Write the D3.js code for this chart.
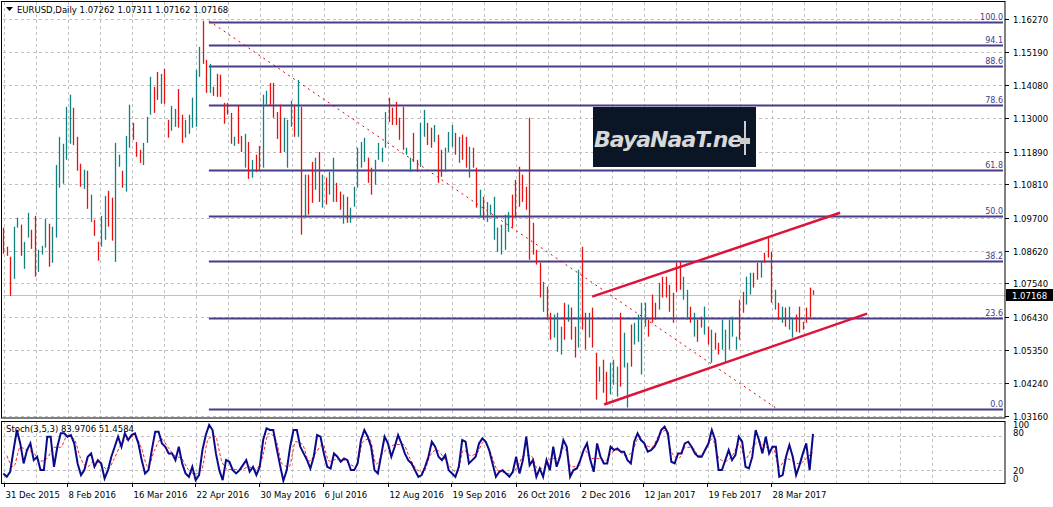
<!DOCTYPE html>
<html><head><meta charset="utf-8">
<script src="https://cdn.jsdelivr.net/npm/d3@7"></script>
<style>
body{margin:0;background:#fff;}
text{font-family:"DejaVu Sans",sans-serif;}
</style></head>
<body><svg id="chart" width="1053" height="507"></svg>
<script>
// EURUSD daily bars (high / low / direction U=up D=down)
var highs = [1.0938,1.0875,1.0842,1.0941,1.0971,1.0948,1.0891,1.0987,1.0931,1.0977,1.0865,1.0878,1.0967,1.0951,1.0941,1.1145,1.1238,1.1215,1.1337,1.1377,
  1.1334,1.1238,1.1149,1.1129,1.1126,1.1047,1.0964,1.0891,1.0977,1.1043,1.1060,1.1037,1.1218,1.1179,1.1126,1.1241,1.1344,1.1284,1.1221,1.1195,
  1.1218,1.1304,1.1436,1.1403,1.1452,1.1446,1.1462,1.1294,1.1340,1.1330,1.1396,1.1311,1.1294,1.1311,1.1367,1.1459,1.1535,1.1621,1.1492,1.1479,
  1.1403,1.1446,1.1443,1.1350,1.1350,1.1317,1.1238,1.1340,1.1241,1.1248,1.1221,1.1162,1.1179,1.1208,1.1377,1.1390,1.1416,1.1416,1.1320,1.1344,
  1.1301,1.1294,1.1357,1.1344,1.1426,1.1337,1.1113,1.1113,1.1155,1.1169,1.1188,1.1113,1.1103,1.1122,1.1169,1.1086,1.1057,1.1047,1.1040,1.1004,
  1.1073,1.1202,1.1221,1.1235,1.1169,1.1136,1.1162,1.1218,1.1202,1.1320,1.1367,1.1334,1.1353,1.1301,1.1337,1.1202,1.1169,1.1251,1.1162,1.1284,
  1.1327,1.1284,1.1268,1.1277,1.1245,1.1195,1.1202,1.1254,1.1277,1.1251,1.1238,1.1245,1.1238,1.1205,1.1202,1.1136,1.1063,1.1040,1.1023,1.1014,
  1.1040,1.0938,1.0948,1.0981,1.0990,1.1047,1.1096,1.1139,1.1113,1.1073,1.1301,1.0954,1.0865,1.0822,1.0759,1.0743,1.0657,1.0651,1.0657,1.0611,
  1.0690,1.0684,1.0674,1.0611,1.0799,1.0875,1.0657,1.0657,1.0674,1.0525,1.0479,1.0502,1.0462,1.0492,1.0502,1.0479,1.0657,1.0591,1.0492,1.0618,
  1.0624,1.0651,1.0690,1.0690,1.0634,1.0717,1.0690,1.0756,1.0776,1.0776,1.0749,1.0723,1.0822,1.0825,1.0776,1.0733,1.0677,1.0657,1.0634,1.0644,
  1.0677,1.0611,1.0601,1.0591,1.0558,1.0634,1.0601,1.0634,1.0644,1.0578,1.0700,1.0726,1.0776,1.0789,1.0789,1.0822,1.0825,1.0855,1.0908,1.0858,
  1.0733,1.0690,1.0677,1.0674,1.0677,1.0641,1.0651,1.0677,1.0627,1.0674,1.0740,1.07311];
var lows = [1.0852,1.0845,1.0713,1.0769,1.0938,1.0845,1.0802,1.0905,1.0868,1.0776,1.0792,1.0849,1.0872,1.0809,1.0822,1.0905,1.1070,1.1083,1.1162,1.1215,
  1.1211,1.1126,1.1073,1.1066,1.1000,1.0957,1.0911,1.0829,1.0875,1.0898,1.0941,1.0895,1.0825,1.1139,1.1070,1.1057,1.1202,1.1228,1.1172,1.1152,
  1.1145,1.1218,1.1311,1.1317,1.1360,1.1347,1.1347,1.1235,1.1258,1.1271,1.1268,1.1218,1.1235,1.1248,1.1268,1.1271,1.1436,1.1479,1.1383,1.1383,
  1.1373,1.1370,1.1370,1.1281,1.1311,1.1215,1.1208,1.1215,1.1188,1.1136,1.1099,1.1103,1.1122,1.1129,1.1136,1.1344,1.1340,1.1301,1.1231,1.1185,
  1.1188,1.1136,1.1271,1.1238,1.1238,1.0915,1.0971,1.0981,1.1020,1.1063,1.1023,1.1004,1.1014,1.1047,1.1023,1.1023,1.0997,1.0951,1.0954,1.0954,
  1.1007,1.1070,1.1136,1.1155,1.1086,1.1047,1.1080,1.1162,1.1155,1.1202,1.1287,1.1277,1.1277,1.1228,1.1195,1.1179,1.1122,1.1155,1.1122,1.1139,
  1.1238,1.1211,1.1202,1.1221,1.1086,1.1106,1.1122,1.1188,1.1205,1.1179,1.1152,1.1162,1.1136,1.1103,1.1136,1.1004,1.0971,1.0964,1.0957,1.0981,
  1.0898,1.0858,1.0849,1.0865,1.0924,1.0938,1.0971,1.1007,1.1023,1.0997,1.0832,1.0849,1.0816,1.0707,1.0660,1.0634,1.0568,1.0575,1.0528,1.0519,
  1.0568,1.0627,1.0568,1.0509,1.0542,1.0601,1.0535,1.0575,1.0542,1.0370,1.0429,1.0393,1.0354,1.0387,1.0419,1.0380,1.0413,1.0476,1.0344,1.0479,
  1.0552,1.0561,1.0453,1.0611,1.0578,1.0624,1.0634,1.0667,1.0707,1.0707,1.0660,1.0624,1.0726,1.0733,1.0700,1.0634,1.0624,1.0578,1.0561,1.0608,
  1.0585,1.0552,1.0492,1.0535,1.0519,1.0535,1.0495,1.0535,1.0578,1.0535,1.0568,1.0657,1.0684,1.0717,1.0740,1.0766,1.0773,1.0822,1.0839,1.0690,
  1.0667,1.0634,1.0624,1.0611,1.0601,1.0575,1.0594,1.0591,1.0601,1.0624,1.0641,1.07162];
var dirs = "DDDUUDUUDDUUUDUUUUUUDDDUDUDDUUDDUUDUUDDDUUUDDUDDUUDDUUUUUDDUDDDDDDUDDUDUDDUUDDDDUUUDUDUDDUDUDUUDDUDUUUUUDDUUUUDDDDDUUDDUUDDUDDUUUDUDDUDDUDUUUUUUUDDDDDDDDDUDDUUUDUDDUDDUDDUDDUUUDUUDUUUUDDDUDDDDDDUUDUDDUDUDDUUUUUDDUUDDUDDDUDUDUUD";

var yTicks = [1.16270,1.15190,1.14080,1.13000,1.11890,1.10810,1.09700,1.08620,1.07540,1.06430,1.05350,1.04240,1.03160];
var dateLabels = ["31 Dec 2015","8 Feb 2016","16 Mar 2016","22 Apr 2016","30 May 2016","6 Jul 2016","12 Aug 2016","19 Sep 2016","26 Oct 2016","2 Dec 2016","12 Jan 2017","19 Feb 2017","28 Mar 2017"];
var dateIdx = [0.3,18.3,36.8,54.8,73,91.3,109.8,127.8,146.3,164.6,182.5,200.8,219];

// fibonacci retracement
var fibHigh = 1.1616, fibLow = 1.0340;
var fibLevels = [0,23.6,38.2,50,61.8,78.6,88.6,94.1,100];
// trendlines [idx1, price1, idx2, price2]
var diagLine = [58.7,1.1621,220.2,1.0344];
var chanUpper = [168,1.0710,238.7,1.0987];
var chanLower = [171.4,1.0354,246.4,1.0654];
var lastPrice = 1.07168;

// stochastic %K (sampled) and %D (sampled)
var stochK = [13,7,16,55,91,67,31,55,67,37,43,19,19,79,79,25,61,85,85,79,82,67,31,10,19,43,49,25,37,31,4,19,43,61,79,61,85,73,82,85,
  67,37,13,19,55,88,88,67,61,49,49,37,61,31,13,7,25,1,10,55,82,100,91,49,19,1,37,34,19,13,19,28,37,16,25,10,25,73,94,91,
  91,58,28,0,19,61,91,91,61,49,37,22,43,82,79,49,25,22,49,43,34,40,37,19,19,31,73,91,79,61,19,13,46,79,67,43,61,82,67,49,
  37,31,19,7,10,25,43,70,61,43,37,46,19,13,7,25,73,70,31,37,43,67,76,70,55,31,7,16,19,13,7,16,43,13,37,79,28,37,7,22,
  7,37,19,61,25,43,73,61,7,19,22,37,55,67,37,16,67,43,31,31,61,55,58,52,52,37,31,70,85,73,67,52,55,61,73,91,97,85,34,31,
  49,49,67,70,61,49,43,43,55,67,91,73,19,19,37,55,37,46,79,70,25,22,43,91,73,49,79,49,61,61,7,10,43,64,43,10,28,49,67,19,84];
var stochD = [45,25,60,55,50,35,40,60,60,80,75,40,25,35,30,20,40,65,75,80,60,25,55,75,60,45,40,20,12,20,75,80,35,20,20,20,25,20,40,85,
  75,30,25,70,65,35,50,65,35,38,38,30,25,70,75,30,50,60,65,65,40,20,15,45,55,42,25,15,55,45,50,70,50,20,15,12,25,45,45,22,
  22,40,40,60,25,25,55,40,40,35,50,55,45,50,75,65,60,80,90,50,40,60,60,45,55,75,40,35,45,65,40,60,70,60,60,25,40,35,30,40,51];

var svg = d3.select("#chart");
var L = 3, R = 1005, T = 2, MB = 418, ST = 421, SB = 483;

var x = d3.scaleLinear().domain([0, 286]).range([L, 1006]);
var y = d3.scaleLinear().domain([1.0316, 1.1627]).range([416, 19]);
var ys = d3.scaleLinear().domain([0, 100]).range([480.7, 425]);

var grid = svg.append("g").attr("stroke", "#c0c0c0").attr("stroke-dasharray", "3,3").attr("stroke-width", 1);
// vertical grid: every half date step
d3.range(0, 30).forEach(function (k) {
    var gx = Math.round(x(dateIdx[0] + k * 9.125)) + 0.5;
    if (gx < R) {
        grid.append("line").attr("x1", gx).attr("x2", gx).attr("y1", T).attr("y2", MB);
        grid.append("line").attr("x1", gx).attr("x2", gx).attr("y1", ST).attr("y2", SB);
    }
});
yTicks.forEach(function (t) {
    var gy = Math.round(y(t)) + 0.5;
    grid.append("line").attr("x1", L).attr("x2", R).attr("y1", gy).attr("y2", gy);
});
[20, 80].forEach(function (v) {
    var gy = Math.round(ys(v)) + 0.5;
    grid.append("line").attr("x1", L).attr("x2", R).attr("y1", gy).attr("y2", gy);
});

// last price line
svg.append("line").attr("x1", L).attr("x2", R).attr("y1", Math.round(y(lastPrice)) + 0.5).attr("y2", Math.round(y(lastPrice)) + 0.5)
    .attr("stroke", "#c0c0c0");

// fibo levels
var fib = svg.append("g");
var fibX1 = x(diagLine[0]);
fibLevels.forEach(function (lv) {
    var p = fibLow + (fibHigh - fibLow) * lv / 100;
    var fy = Math.round(y(p)) + 0.5;
    fib.append("line").attr("x1", fibX1).attr("x2", R - 2).attr("y1", fy).attr("y2", fy)
        .attr("stroke", "#483d8b").attr("stroke-width", 2);
    fib.append("text").attr("x", R - 2).attr("y", fy - 3).attr("text-anchor", "end")
        .attr("font-size", "8px").attr("fill", "#483d8b").text(lv.toFixed(1));
});

// logo
var logo = svg.append("g").attr("transform", "translate(593,107)");
logo.append("rect").attr("width", 163).attr("height", 60).attr("fill", "#0a1626");
logo.append("text").attr("x", 1).attr("y", 40).attr("font-size", "22px").attr("font-style", "italic")
    .attr("font-weight", "bold").attr("fill", "#d8d8d8").attr("letter-spacing", "-1").text("BayaNaaT.ne");
logo.append("line").attr("x1", 152).attr("x2", 152).attr("y1", 14).attr("y2", 48).attr("stroke", "#ccc").attr("stroke-width", 2);
logo.append("rect").attr("x", 147).attr("y", 31).attr("width", 10).attr("height", 6).attr("fill", "#ccc");

// diagonal dotted line
svg.append("line").attr("x1", x(diagLine[0])).attr("y1", y(diagLine[1])).attr("x2", x(diagLine[2])).attr("y2", y(diagLine[3]))
    .attr("stroke", "#e00000").attr("stroke-dasharray", "2,4").attr("stroke-width", 1);

// bars
var bars = svg.append("g");
highs.forEach(function (h, i) {
    var bx = Math.round(x(i)) + 0.5;
    bars.append("line").attr("x1", bx).attr("x2", bx).attr("y1", y(h)).attr("y2", y(lows[i]))
        .attr("stroke", dirs[i] === "U" ? "#12807e" : "#e81010").attr("stroke-width", 1.3);
});

// channel
[chanUpper, chanLower].forEach(function (c) {
    svg.append("line").attr("x1", x(c[0])).attr("y1", y(c[1])).attr("x2", x(c[2])).attr("y2", y(c[3]))
        .attr("stroke", "#dc143c").attr("stroke-width", 2.5);
});

// stochastic
var xk = d3.scaleLinear().domain([0, stochK.length - 1]).range([3.4, 813]);
var xd = d3.scaleLinear().domain([0, stochD.length - 1]).range([6.8, 813]);
svg.append("path").datum(stochD).attr("fill", "none").attr("stroke", "#ff2020").attr("stroke-dasharray", "3,2")
    .attr("d", d3.line().x(function (d, i) { return xd(i); }).y(function (d) { return ys(d); }).curve(d3.curveMonotoneX));
svg.append("path").datum(stochK).attr("fill", "none").attr("stroke", "#0a0a8c").attr("stroke-width", 2)
    .attr("d", d3.line().x(function (d, i) { return xk(i); }).y(function (d) { return ys(d); }));

// frames
svg.append("rect").attr("x", 1.5).attr("y", 1.5).attr("width", R - 1.5).attr("height", MB - 1.5).attr("fill", "none").attr("stroke", "#000");
svg.append("rect").attr("x", 1.5).attr("y", ST + 0.5).attr("width", R - 1.5).attr("height", SB - ST).attr("fill", "none").attr("stroke", "#000");

// price axis
var ax = svg.append("g");
yTicks.forEach(function (t) {
    var ty = Math.round(y(t)) + 0.5;
    ax.append("line").attr("x1", R).attr("x2", R + 4).attr("y1", ty).attr("y2", ty).attr("stroke", "#000");
    ax.append("text").attr("x", 1013).attr("y", ty + 3.5).attr("font-size", "8.5px").attr("fill", "#000").text(t.toFixed(5));
});
var lpy = Math.round(y(lastPrice));
ax.append("rect").attr("x", 1006).attr("y", lpy - 6).attr("width", 47).attr("height", 12).attr("fill", "#000");
ax.append("text").attr("x", 1012).attr("y", lpy + 3.5).attr("font-size", "8.5px").attr("fill", "#fff").text(lastPrice.toFixed(5));

// stoch axis
[[100, 428], [80, 436], [20, 474], [0, 482]].forEach(function (s) {
    ax.append("text").attr("x", 1013).attr("y", s[1]).attr("font-size", "8.5px").text(s[0]);
});

// date axis
dateLabels.forEach(function (d, i) {
    var dx = Math.round(x(dateIdx[i])) + 0.5;
    ax.append("line").attr("x1", dx).attr("x2", dx).attr("y1", SB).attr("y2", SB + 4).attr("stroke", "#000");
    ax.append("text").attr("x", dx + 1).attr("y", 498).attr("font-size", "8.5px").text(d);
});

// titles
svg.append("path").attr("d", "M6,7 L13,7 L9.5,11 Z").attr("fill", "#000");
svg.append("text").attr("x", 17).attr("y", 13).attr("font-size", "8.5px").text("EURUSD,Daily  1.07262 1.07311 1.07162 1.07168");
svg.append("text").attr("x", 6).attr("y", 432).attr("font-size", "8.5px").text("Stoch(3,5,3) 83.9706 51.4584");
</script></body></html>
